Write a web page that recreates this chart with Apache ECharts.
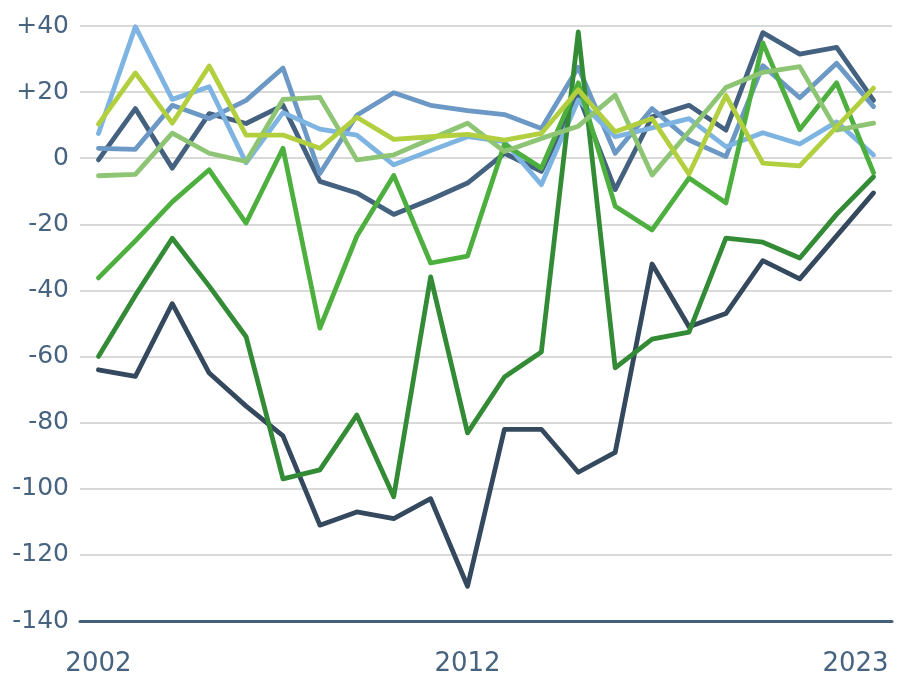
<!DOCTYPE html>
<html>
<head>
<meta charset="utf-8">
<script src="https://cdn.jsdelivr.net/npm/echarts@6/dist/echarts.min.js"></script>
<style>html,body{margin:0;padding:0;background:#fff}#c{width:907px;height:678px}</style>
</head>
<body>
<div id="c"></div>
<script>
const years = ['2002','2003','2004','2005','2006','2007','2008','2009','2010','2011','2012','2013','2014','2015','2016','2017','2018','2019','2020','2021','2022','2023'];
const shownYears = ['2002','2012','2023'];
const yTicks = [40, 20, 0, -20, -40, -60, -80, -100, -120, -140];

const navyLow     = [-64, -66, -44, -65, -75, -84, -111, -107, -109, -103, -129.5, -82, -82, -95, -89, -32, -51, -47, -31, -36.5, -23.5, -10.5];
const slateTop    = [-0.5, 15, -3, 13.5, 10.5, 16, -7, -10.5, -17, -12.5, -7.5, 1.5, -4, 19, -9.5, 12.5, 16, 8.5, 38, 31.5, 33.5, 17.5];
const steelBlue   = [3, 2.7, 16, 12, 17.5, 27.3, -4.6, 13, 19.8, 16, 14.4, 13.2, 9, 27.5, 1.5, 15, 5.5, 0.5, 28, 18.3, 28.7, 15.6];
const lightBlue   = [7.5, 39.8, 17.8, 21.6, -1.4, 13.8, 8.8, 7, -2, 2.3, 6.5, 5, -8, 17.6, 6.5, 9.2, 12, 3.5, 7.7, 4.3, 11, 1];
const darkGreen   = [-60, -41.5, -24.2, -38.7, -54, -97, -94.3, -77.7, -102.4, -35.9, -83.1, -66.2, -58.6, 38.2, -63.4, -54.7, -52.6, -24.2, -25.4, -30.2, -17, -5.6];
const midGreen    = [-36.2, -25, -13.2, -3.5, -19.6, 3, -51.4, -23.6, -5.2, -31.7, -29.6, 4.2, -3, 22.8, -14.5, -21.7, -6, -13.5, 34.9, 8.7, 22.8, -4.4];
const paleGreen   = [-5.3, -4.9, 7.6, 1.5, -1, 17.8, 18.4, -0.5, 1, 5.8, 10.6, 2, 6, 9.7, 19.1, -5.1, 8, 21.4, 26, 27.7, 8.5, 10.6];
const limeGreen   = [10.3, 25.8, 10.6, 27.9, 7, 7, 3, 12.4, 5.7, 6.5, 7.2, 5.5, 7.5, 20.7, 8, 12, -4.8, 19, -1.5, -2.3, 9.5, 21.2];

const seriesList = [
  { name: 'navyLow', data: navyLow, color: '#34495e' },
  { name: 'slateTop', data: slateTop, color: '#44617f' },
  { name: 'steelBlue', data: steelBlue, color: '#6b98c4' },
  { name: 'lightBlue', data: lightBlue, color: '#7eb4e2' },
  { name: 'darkGreen', data: darkGreen, color: '#338b35' },
  { name: 'midGreen', data: midGreen, color: '#4caf3e' },
  { name: 'paleGreen', data: paleGreen, color: '#8ec574' },
  { name: 'limeGreen', data: limeGreen, color: '#b1cf3f' }
];

const labelColor = '#47637f';
const font = 'DejaVu Sans';

const chart = echarts.init(document.getElementById('c'), null, { renderer: 'canvas' });
chart.setOption({
  animation: false,
  grid: { left: 80, right: 15, top: 26, bottom: 57, containLabel: false },
  xAxis: {
    type: 'category',
    data: years,
    boundaryGap: true,
    axisLine: { show: true, onZero: false, lineStyle: { color: '#45617d', width: 3 } },
    axisTick: { show: false },
    splitLine: { show: false },
    axisLabel: {
      interval: function (i, v) { return shownYears.indexOf(v) >= 0; },
      color: labelColor,
      fontFamily: font,
      fontSize: 26,
      margin: 30,
      formatter: function (v) { return v === '2023' ? '{r|' + v + '}' : v; },
      rich: { r: { color: labelColor, fontFamily: font, fontSize: 26, padding: [0, 36, 0, 0] } }
    }
  },
  yAxis: {
    type: 'value',
    min: yTicks[yTicks.length - 1],
    max: yTicks[0],
    interval: 20,
    axisLine: { show: false },
    axisTick: { show: false },
    splitLine: { show: true, lineStyle: { color: '#d9d9d9', width: 2 } },
    axisLabel: {
      color: labelColor,
      fontFamily: font,
      fontSize: 25,
      margin: 11,
      formatter: function (v) { return v > 0 ? '+' + v : String(v); }
    }
  },
  series: seriesList.map(s => ({
    name: s.name,
    type: 'line',
    data: s.data,
    symbol: 'none',
    smooth: false,
    lineStyle: { color: s.color, width: 4.8, join: 'round', cap: 'round' },
    itemStyle: { color: s.color }
  }))
});
</script>
</body>
</html>
